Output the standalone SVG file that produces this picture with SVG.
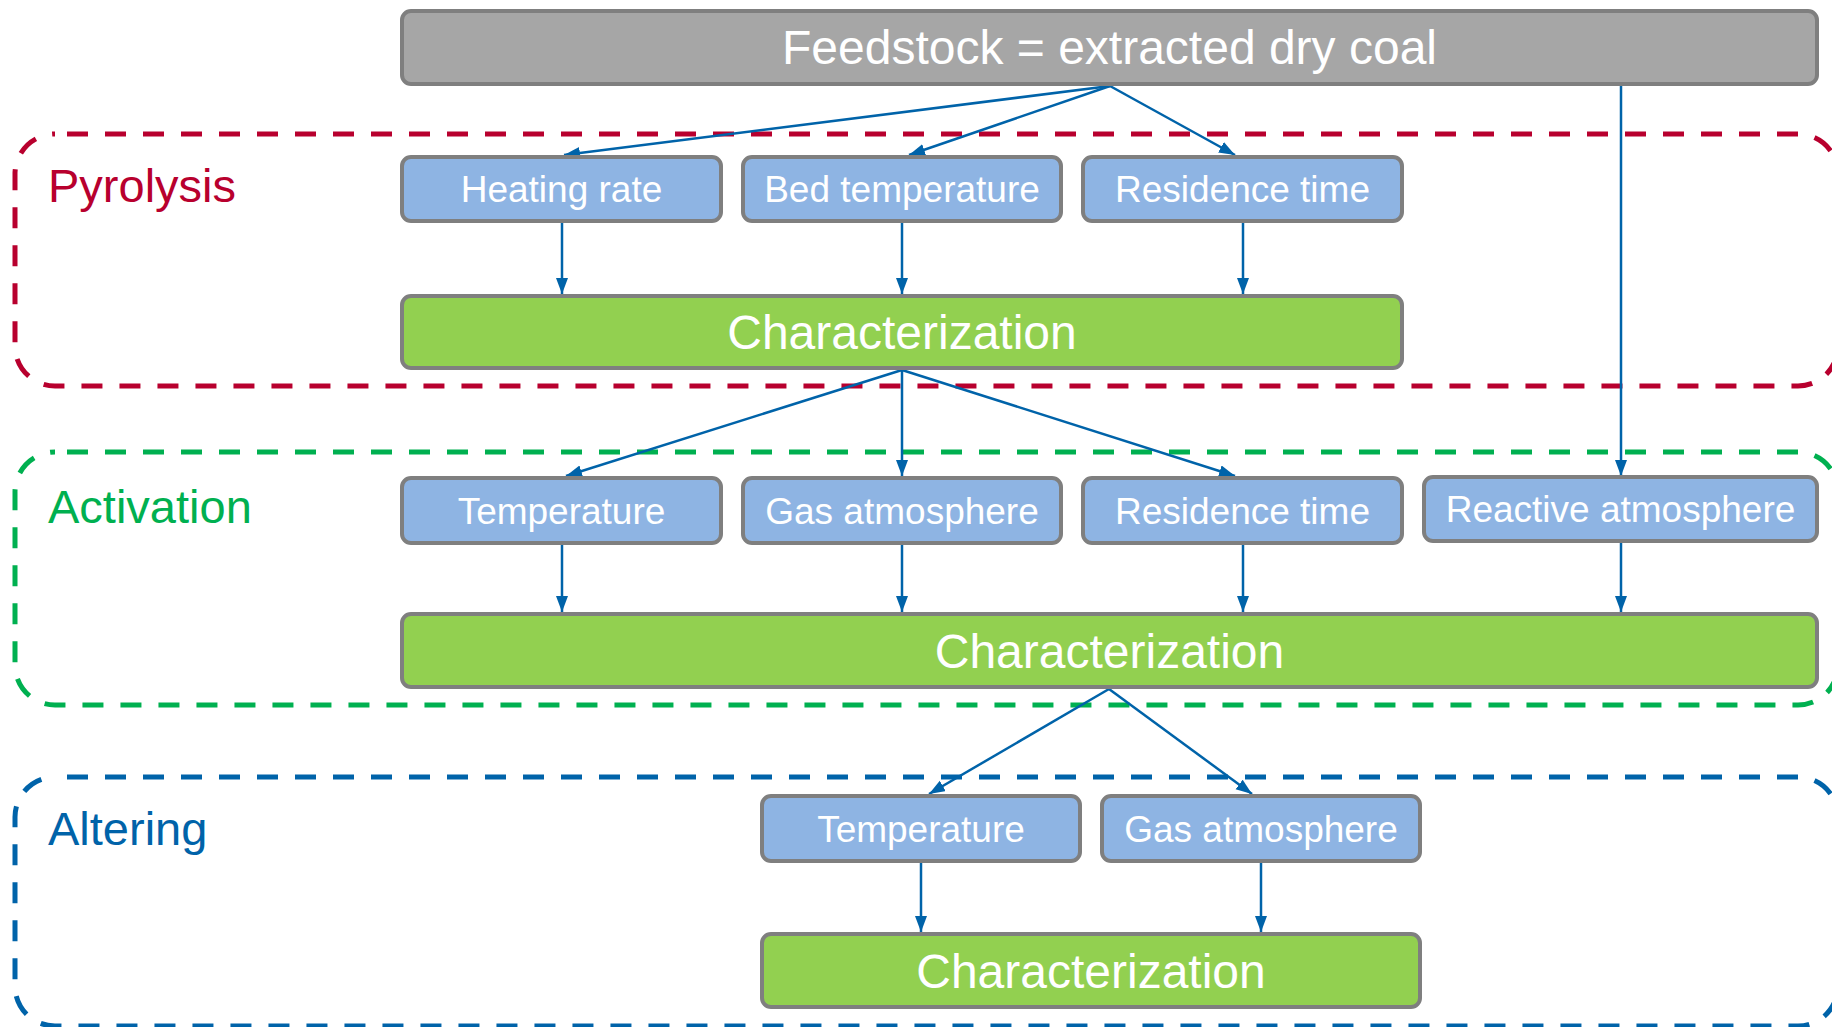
<svg xmlns="http://www.w3.org/2000/svg" width="1832" height="1027" viewBox="0 0 1832 1027">
<style>
  .grp{fill:none;stroke-width:5;stroke-dasharray:21 17;stroke-dashoffset:26}
  .lbl{font-family:"Liberation Sans",Arial,sans-serif;font-size:47px}
  .box{stroke:#7f7f7f;stroke-width:4}
  .param{fill:#8eb4e3}
  .char{fill:#92d050}
  .feed{fill:#a6a6a6}
  .t{font-family:"Liberation Sans",Arial,sans-serif;fill:#ffffff;text-anchor:middle}
  .ts{font-size:37px}
  .tl{font-size:48px}
  .conn line{stroke:#0063a9;stroke-width:2.5;fill:none;marker-end:url(#arr)}
</style>
<defs>
  <marker id="arr" markerUnits="userSpaceOnUse" markerWidth="17" markerHeight="13" refX="16" refY="6" orient="auto" viewBox="0 0 17 13">
    <path d="M0,0 L16,6 L0,12 z" fill="#0063a9"/>
  </marker>
</defs>
<rect width="1832" height="1027" fill="#ffffff"/>

<g id="group-pyrolysis">
  <rect class="grp" x="15" y="134" width="1823" height="252" rx="40" stroke="#b8002e"/>
  <text class="lbl" x="48" y="202" fill="#b8002e">Pyrolysis</text>
</g>
<g id="group-activation">
  <rect class="grp" x="15" y="452" width="1823" height="253" rx="40" stroke="#00b050"/>
  <text class="lbl" x="48" y="523" fill="#00b050">Activation</text>
</g>
<g id="group-altering">
  <rect class="grp" x="15" y="777" width="1823" height="249" rx="40" stroke="#0063a9"/>
  <text class="lbl" x="48" y="845" fill="#0063a9">Altering</text>
</g>

<g class="conn" id="connectors">
  <line x1="1110" y1="86" x2="564" y2="155"/>
  <line x1="1110" y1="86" x2="909" y2="155"/>
  <line x1="1110" y1="86" x2="1235" y2="155"/>
  <line x1="1621" y1="86" x2="1621" y2="476"/>
  <line x1="562" y1="223" x2="562" y2="294"/>
  <line x1="902" y1="223" x2="902" y2="294"/>
  <line x1="1243" y1="223" x2="1243" y2="294"/>
  <line x1="902" y1="370" x2="566" y2="476"/>
  <line x1="902" y1="370" x2="902" y2="476"/>
  <line x1="902" y1="370" x2="1235" y2="476"/>
  <line x1="562" y1="545" x2="562" y2="612"/>
  <line x1="902" y1="545" x2="902" y2="612"/>
  <line x1="1243" y1="545" x2="1243" y2="612"/>
  <line x1="1621" y1="543" x2="1621" y2="612"/>
  <line x1="1109" y1="689" x2="929" y2="794"/>
  <line x1="1109" y1="689" x2="1252" y2="794"/>
  <line x1="921" y1="863" x2="921" y2="932"/>
  <line x1="1261" y1="863" x2="1261" y2="932"/>
</g>

<g id="feedstock">
  <rect class="box feed" x="402" y="11" width="1415" height="73" rx="9"/>
  <text class="t tl" x="1109.5" y="64">Feedstock = extracted dry coal</text>
</g>

<g id="pyr-heating-rate">
  <rect class="box param" x="402" y="157" width="319" height="64" rx="9"/>
  <text class="t ts" x="561.5" y="202">Heating rate</text>
</g>
<g id="pyr-bed-temperature">
  <rect class="box param" x="743" y="157" width="318" height="64" rx="9"/>
  <text class="t ts" x="902" y="202">Bed temperature</text>
</g>
<g id="pyr-residence-time">
  <rect class="box param" x="1083" y="157" width="319" height="64" rx="9"/>
  <text class="t ts" x="1242.5" y="202">Residence time</text>
</g>
<g id="pyr-characterization">
  <rect class="box char" x="402" y="296" width="1000" height="72" rx="9"/>
  <text class="t tl" x="902" y="349">Characterization</text>
</g>

<g id="act-temperature">
  <rect class="box param" x="402" y="478" width="319" height="65" rx="9"/>
  <text class="t ts" x="561.5" y="524">Temperature</text>
</g>
<g id="act-gas-atmosphere">
  <rect class="box param" x="743" y="478" width="318" height="65" rx="9"/>
  <text class="t ts" x="902" y="524">Gas atmosphere</text>
</g>
<g id="act-residence-time">
  <rect class="box param" x="1083" y="478" width="319" height="65" rx="9"/>
  <text class="t ts" x="1242.5" y="524">Residence time</text>
</g>
<g id="act-reactive-atmosphere">
  <rect class="box param" x="1424" y="477" width="393" height="64" rx="9"/>
  <text class="t ts" x="1620.5" y="522">Reactive atmosphere</text>
</g>
<g id="act-characterization">
  <rect class="box char" x="402" y="614" width="1415" height="73" rx="9"/>
  <text class="t tl" x="1109.5" y="668">Characterization</text>
</g>

<g id="alt-temperature">
  <rect class="box param" x="762" y="796" width="318" height="65" rx="9"/>
  <text class="t ts" x="921" y="842">Temperature</text>
</g>
<g id="alt-gas-atmosphere">
  <rect class="box param" x="1102" y="796" width="318" height="65" rx="9"/>
  <text class="t ts" x="1261" y="842">Gas atmosphere</text>
</g>
<g id="alt-characterization">
  <rect class="box char" x="762" y="934" width="658" height="73" rx="9"/>
  <text class="t tl" x="1091" y="988">Characterization</text>
</g>
</svg>
